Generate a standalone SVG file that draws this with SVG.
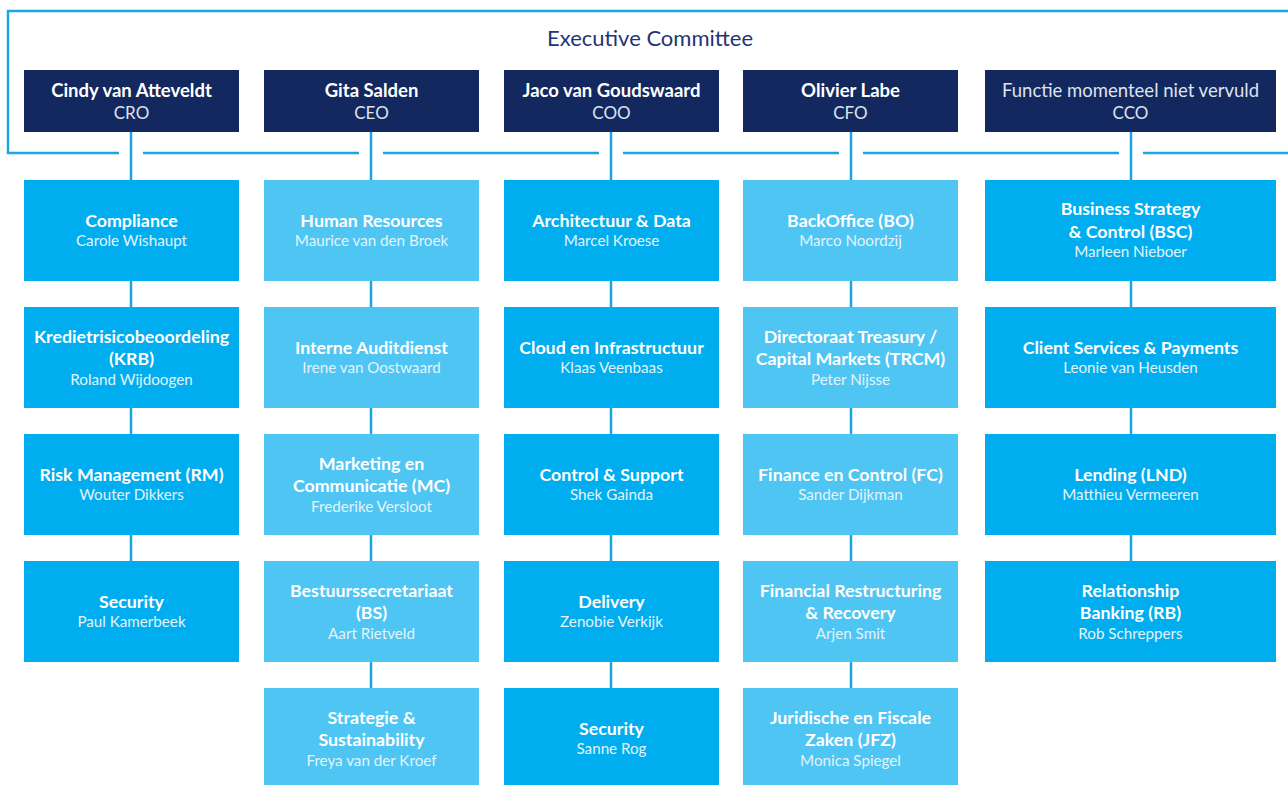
<svg xmlns="http://www.w3.org/2000/svg" width="1288" height="785" viewBox="0 0 1288 785">
<style>
.hd{fill:#13285e}
.dk{fill:#00adee}
.lt{fill:#4fc5f3}
.ln{stroke:#1da4e4;stroke-width:2.5;fill:none}
text{font-family:Lato,"Noto Sans","Liberation Sans",sans-serif;text-anchor:middle}
.t{font-weight:700;font-size:17.8px;fill:#ffffff}
.n{font-size:15.2px;fill:#e2f4fc}
.hn{font-weight:700;font-size:18.5px;fill:#ffffff}
.hr{font-size:17px;fill:#dfe3ee}
.hw{font-size:18.5px;fill:#dfe3ee}
.ex{font-size:22px;fill:#1e3673}
</style>
<rect width="1288" height="785" fill="#ffffff"/>
<g id="connectors" class="ln">
<path d="M1290,11 H8 V153 H119 M143,153 H359 M383,153 H599 M623,153 H839 M863,153 H1119 M1143,153 H1290"/>
<path d="M131,132 V180 M131,281 V307 M131,408 V434 M131,535 V561"/>
<path d="M371,132 V180 M371,281 V307 M371,408 V434 M371,535 V561 M371,662 V688"/>
<path d="M611,132 V180 M611,281 V307 M611,408 V434 M611,535 V561 M611,662 V688"/>
<path d="M851,132 V180 M851,281 V307 M851,408 V434 M851,535 V561 M851,662 V688"/>
<path d="M1131,132 V180 M1131,281 V307 M1131,408 V434 M1131,535 V561"/>
</g>
<text id="title" class="ex" x="650" y="46">Executive Committee</text>
<g id="h-cro"><rect class="hd" x="24" y="70" width="215" height="62"/><text class="hn" x="131.5" y="97">Cindy van Atteveldt</text><text class="hr" x="131.5" y="119">CRO</text></g>
<g id="h-ceo"><rect class="hd" x="264" y="70" width="215" height="62"/><text class="hn" x="371.5" y="97">Gita Salden</text><text class="hr" x="371.5" y="119">CEO</text></g>
<g id="h-coo"><rect class="hd" x="504" y="70" width="215" height="62"/><text class="hn" x="611.5" y="97">Jaco van Goudswaard</text><text class="hr" x="611.5" y="119">COO</text></g>
<g id="h-cfo"><rect class="hd" x="743" y="70" width="215" height="62"/><text class="hn" x="850.5" y="97">Olivier Labe</text><text class="hr" x="850.5" y="119">CFO</text></g>
<g id="h-cco"><rect class="hd" x="985" y="70" width="291" height="62"/><text class="hw" x="1130.5" y="97">Functie momenteel niet vervuld</text><text class="hr" x="1130.5" y="119">CCO</text></g>

<g id="c1-compliance"><rect class="dk" x="24" y="180" width="215" height="101"/><text class="t" x="131.5" y="227">Compliance</text><text class="n" x="131.5" y="246">Carole Wishaupt</text></g>
<g id="c1-krb"><rect class="dk" x="24" y="307" width="215" height="101"/><text class="t" x="131.5" y="343">Kredietrisicobeoordeling</text><text class="t" x="131.5" y="365">(KRB)</text><text class="n" x="131.5" y="385">Roland Wijdoogen</text></g>
<g id="c1-rm"><rect class="dk" x="24" y="434" width="215" height="101"/><text class="t" x="131.5" y="481">Risk Management (RM)</text><text class="n" x="131.5" y="500">Wouter Dikkers</text></g>
<g id="c1-security"><rect class="dk" x="24" y="561" width="215" height="101"/><text class="t" x="131.5" y="608">Security</text><text class="n" x="131.5" y="627">Paul Kamerbeek</text></g>

<g id="c2-hr"><rect class="lt" x="264" y="180" width="215" height="101"/><text class="t" x="371.5" y="227">Human Resources</text><text class="n" x="371.5" y="246">Maurice van den Broek</text></g>
<g id="c2-audit"><rect class="lt" x="264" y="307" width="215" height="101"/><text class="t" x="371.5" y="354">Interne Auditdienst</text><text class="n" x="371.5" y="373">Irene van Oostwaard</text></g>
<g id="c2-mc"><rect class="lt" x="264" y="434" width="215" height="101"/><text class="t" x="371.5" y="470">Marketing en</text><text class="t" x="371.5" y="492">Communicatie (MC)</text><text class="n" x="371.5" y="512">Frederike Versloot</text></g>
<g id="c2-bs"><rect class="lt" x="264" y="561" width="215" height="101"/><text class="t" x="371.5" y="597">Bestuurssecretariaat</text><text class="t" x="371.5" y="619">(BS)</text><text class="n" x="371.5" y="639">Aart Rietveld</text></g>
<g id="c2-strategie"><rect class="lt" x="264" y="688" width="215" height="101"/><text class="t" x="371.5" y="724">Strategie &amp;</text><text class="t" x="371.5" y="746">Sustainability</text><text class="n" x="371.5" y="766">Freya van der Kroef</text></g>

<g id="c3-arch"><rect class="dk" x="504" y="180" width="215" height="101"/><text class="t" x="611.5" y="227">Architectuur &amp; Data</text><text class="n" x="611.5" y="246">Marcel Kroese</text></g>
<g id="c3-cloud"><rect class="dk" x="504" y="307" width="215" height="101"/><text class="t" x="611.5" y="354">Cloud en Infrastructuur</text><text class="n" x="611.5" y="373">Klaas Veenbaas</text></g>
<g id="c3-control"><rect class="dk" x="504" y="434" width="215" height="101"/><text class="t" x="611.5" y="481">Control &amp; Support</text><text class="n" x="611.5" y="500">Shek Gainda</text></g>
<g id="c3-delivery"><rect class="dk" x="504" y="561" width="215" height="101"/><text class="t" x="611.5" y="608">Delivery</text><text class="n" x="611.5" y="627">Zenobie Verkijk</text></g>
<g id="c3-security"><rect class="dk" x="504" y="688" width="215" height="101"/><text class="t" x="611.5" y="735">Security</text><text class="n" x="611.5" y="754">Sanne Rog</text></g>

<g id="c4-bo"><rect class="lt" x="743" y="180" width="215" height="101"/><text class="t" x="850.5" y="227">BackOffice (BO)</text><text class="n" x="850.5" y="246">Marco Noordzij</text></g>
<g id="c4-trcm"><rect class="lt" x="743" y="307" width="215" height="101"/><text class="t" x="850.5" y="343">Directoraat Treasury /</text><text class="t" x="850.5" y="365">Capital Markets (TRCM)</text><text class="n" x="850.5" y="385">Peter Nijsse</text></g>
<g id="c4-fc"><rect class="lt" x="743" y="434" width="215" height="101"/><text class="t" x="850.5" y="481">Finance en Control (FC)</text><text class="n" x="850.5" y="500">Sander Dijkman</text></g>
<g id="c4-frr"><rect class="lt" x="743" y="561" width="215" height="101"/><text class="t" x="850.5" y="597">Financial Restructuring</text><text class="t" x="850.5" y="619">&amp; Recovery</text><text class="n" x="850.5" y="639">Arjen Smit</text></g>
<g id="c4-jfz"><rect class="lt" x="743" y="688" width="215" height="101"/><text class="t" x="850.5" y="724">Juridische en Fiscale</text><text class="t" x="850.5" y="746">Zaken (JFZ)</text><text class="n" x="850.5" y="766">Monica Spiegel</text></g>

<g id="c5-bsc"><rect class="dk" x="985" y="180" width="291" height="101"/><text class="t" x="1130.5" y="215">Business Strategy</text><text class="t" x="1130.5" y="238">&amp; Control (BSC)</text><text class="n" x="1130.5" y="257">Marleen Nieboer</text></g>
<g id="c5-csp"><rect class="dk" x="985" y="307" width="291" height="101"/><text class="t" x="1130.5" y="354">Client Services &amp; Payments</text><text class="n" x="1130.5" y="373">Leonie van Heusden</text></g>
<g id="c5-lnd"><rect class="dk" x="985" y="434" width="291" height="101"/><text class="t" x="1130.5" y="481">Lending (LND)</text><text class="n" x="1130.5" y="500">Matthieu Vermeeren</text></g>
<g id="c5-rb"><rect class="dk" x="985" y="561" width="291" height="101"/><text class="t" x="1130.5" y="597">Relationship</text><text class="t" x="1130.5" y="619">Banking (RB)</text><text class="n" x="1130.5" y="639">Rob Schreppers</text></g>
</svg>
